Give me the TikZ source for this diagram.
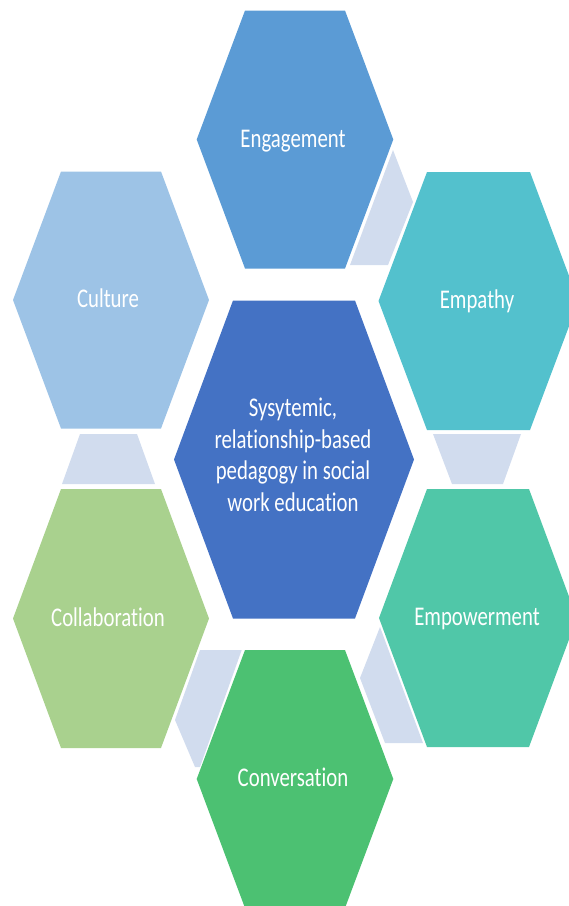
\documentclass[tikz,border=0pt]{standalone}
\usepackage{fontspec}
\setmainfont{Carlito}[Ligatures=NoCommon]
\usepackage{graphicx}
\definecolor{cEng}{HTML}{5B9BD5}
\definecolor{cEmp}{HTML}{53C1CD}
\definecolor{cCul}{HTML}{9DC3E6}
\definecolor{cCen}{HTML}{4472C4}
\definecolor{cCol}{HTML}{A9D18E}
\definecolor{cPow}{HTML}{50C7A8}
\definecolor{cCon}{HTML}{4CC172}
\definecolor{cGap}{HTML}{D1DCEE}
\newcommand{\hexcell}[7]{%
  \coordinate (#1) at (#2,#3);
  \fill[#7] ([shift={(-#4,0)}]#1) -- ([shift={(-#5,-#6)}]#1) -- ([shift={(#5,-#6)}]#1)
    -- ([shift={(#4,0)}]#1) -- ([shift={(#5,#6)}]#1) -- ([shift={(-#5,#6)}]#1) -- cycle;}
\newcommand{\lbltext}[1]{\scalebox{0.77}[1]{#1}}
\tikzset{
  gappiece/.style={fill=cGap},
  lbl/.style={text=white, font=\fontsize{27}{31.5}\selectfont, align=center, inner sep=0pt, anchor=base},
}
\begin{document}
\begin{tikzpicture}[x=1pt,y=-1pt]
\useasboundingbox (0,0) rectangle (569,906);
\clip (0,0) rectangle (569,906);
% light connector pieces
\fill[gappiece] (393,150) -- (413,202) -- (388,265) -- (350,265) -- cycle;
\fill[gappiece] (433,434) -- (521,434) -- (503,484) -- (452,484) -- cycle;
\fill[gappiece] (80,434) -- (137,434) -- (155,484) -- (62,484) -- cycle;
\fill[gappiece] (380,627) -- (360,678) -- (385,743) -- (423,743) -- cycle;
\fill[gappiece] (200,650) -- (241.7,650) -- (200,767) -- (195,767) -- (175,720) -- cycle;
% hexagons
\hexcell{eng}{295}{139.5}{98.3}{50}{129}{cEng}
\hexcell{emp}{478.5}{301}{100}{51.5}{129}{cEmp}
\hexcell{cul}{111}{300}{98}{50}{128.5}{cCul}
\hexcell{cen}{294}{459.5}{120}{61}{159}{cCen}
\hexcell{col}{111}{618.5}{98}{50}{129.5}{cCol}
\hexcell{pow}{478}{618}{99}{51}{129}{cPow}
\hexcell{con}{295}{779}{98.3}{50}{129}{cCon}
% labels
\node[lbl] (tEng) at (293,147) {\lbltext{Engagement}};
\node[lbl] (tEmp) at (477,308.5) {\lbltext{Empathy}};
\node[lbl] (tCul) at (108,307.5) {\lbltext{Culture}};
\node[lbl] (tCol) at (108,626) {\lbltext{Collaboration}};
\node[lbl] (tPow) at (477,625.5) {\lbltext{Empowerment}};
\node[lbl] (tCon) at (293,786.5) {\lbltext{Conversation}};
\node[lbl] (tCen) at (293,511) {\lbltext{Sysytemic,}\\\lbltext{relationship-based}\\\lbltext{pedagogy in social}\\\lbltext{work education}};
\end{tikzpicture}
\end{document}
